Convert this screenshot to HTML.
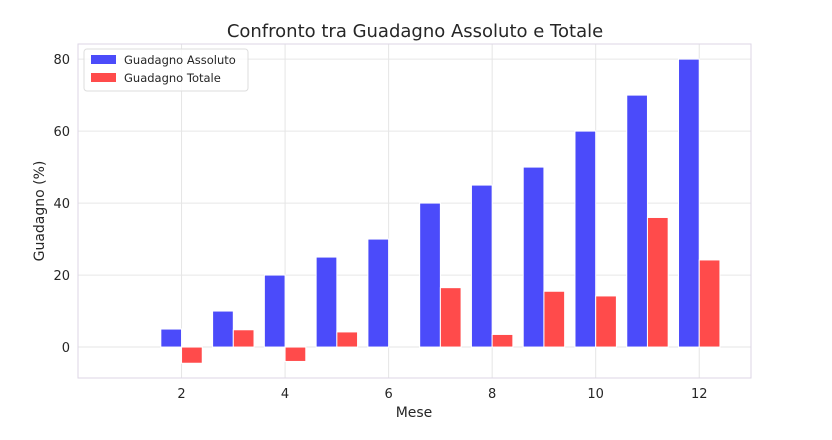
<!DOCTYPE html>
<html><head><meta charset="utf-8"><style>
body{margin:0;background:#fff;font-family:"DejaVu Sans","Liberation Sans",sans-serif;}
svg text{font-family:"DejaVu Sans","Liberation Sans",sans-serif;fill:#262626;}
</style></head><body>
<svg id="chart" width="832" height="436">
<text x="415" y="37" text-anchor="middle" font-size="18">Confronto tra Guadagno Assoluto e Totale</text>
<g id="grid"></g><g id="bars"></g><g id="ticks"></g>
<rect x="78" y="44" width="673" height="334" fill="none" stroke="#dcd6e6" stroke-width="1"/>
<text x="414" y="417" text-anchor="middle" font-size="14">Mese</text>
<text transform="translate(44,211) rotate(-90)" text-anchor="middle" font-size="14">Guadagno (%)</text>
<g>
<rect x="84" y="49" width="164" height="42" fill="#fff" fill-opacity="0.8" stroke="#dddddd" rx="3"/>
<rect x="91" y="55" width="25" height="9" fill="#4b4bfa"/>
<text x="124" y="64" font-size="11.5">Guadagno Assoluto</text>
<rect x="91" y="73" width="25" height="9" fill="#ff4b4b"/>
<text x="124" y="82" font-size="11.5">Guadagno Totale</text>
</g>
</svg>
<script>
const months=[1,2,3,4,5,6,7,8,9,10,11,12];
const assoluto=[0,5,10,20,25,30,40,45,50,60,70,80];
const totale=[0,-4.5,4.8,-4,4.2,0,16.5,3.5,15.5,14.2,36,24.2];
const xTicks=[2,4,6,8,10,12];
const yTicks=[0,20,40,60,80];
const ns="http://www.w3.org/2000/svg";
const X0=78,X1=751,Y0=44,Y1=378,xmin=0,xmax=13,ymin=-8.6,ymax=84.2;
const sx=v=>X0+(v-xmin)/(xmax-xmin)*(X1-X0);
const sy=v=>Y0+(ymax-v)/(ymax-ymin)*(Y1-Y0);
function mk(t,a,p){const e=document.createElementNS(ns,t);for(const k in a)e.setAttribute(k,a[k]);p.appendChild(e);return e;}
const grid=document.getElementById('grid'),bars=document.getElementById('bars'),ticks=document.getElementById('ticks');
xTicks.forEach(v=>{
 const l=mk('line',{x1:sx(v),x2:sx(v),y1:Y0,y2:Y1,stroke:'#e6e6e6'},grid);
 
 
 const t=mk('text',{x:sx(v),y:Y1+20,'text-anchor':'middle','font-size':13},ticks);t.textContent=v;
 
 
});
yTicks.forEach(v=>{
 const l=mk('line',{x1:X0,x2:X1,y1:sy(v),y2:sy(v),stroke:'#e6e6e6'},grid);
 
 
 const t=mk('text',{x:X0-8,y:sy(v)+5,'text-anchor':'end','font-size':13},ticks);t.textContent=v;
 
 
});
const bw=0.4;
months.forEach((m,i)=>{
 const a=assoluto[i],b=totale[i];
 const r1=mk('rect',{x:sx(m-bw),y:Math.min(sy(a),sy(0)),width:sx(bw)-sx(0),height:Math.abs(sy(a)-sy(0)),fill:'#4b4bfa',stroke:'#fff','stroke-width':1},bars);
 
 
 const r2=mk('rect',{x:sx(m),y:Math.min(sy(b),sy(0)),width:sx(bw)-sx(0),height:Math.abs(sy(b)-sy(0)),fill:'#ff4b4b',stroke:'#fff','stroke-width':1},bars);
 
 
});
</script>
</body></html>
